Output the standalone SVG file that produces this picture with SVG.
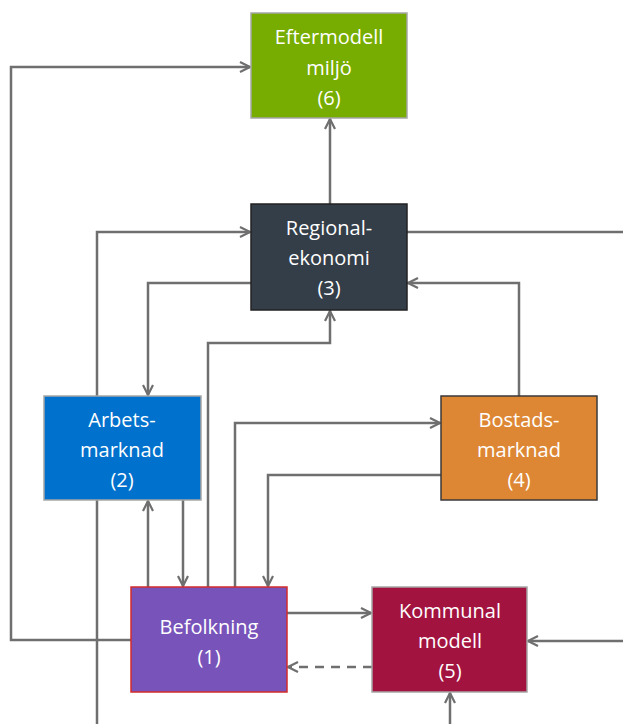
<svg xmlns="http://www.w3.org/2000/svg" width="623" height="724" viewBox="0 0 623 724">
<style>
.c{fill:none;stroke:#6f6f6f;stroke-width:2.5}
.d{stroke-dasharray:9,7}
text{font-family:"Open Sans","Noto Sans",sans-serif;font-size:20px;fill:#fff;text-anchor:middle}
</style>
<defs>
<marker id="a" viewBox="0 0 12 12" refX="11" refY="6" markerWidth="12" markerHeight="12" markerUnits="userSpaceOnUse" orient="auto">
<path d="M1,1 L11,6 L1,11" fill="none" stroke="#6f6f6f" stroke-width="2.2"/>
</marker>
</defs>
<rect width="623" height="724" fill="#fff"/>
<g id="connectors">
<path class="c" d="M131,640 H11 V67 H250" marker-end="url(#a)"/>
<path class="c" d="M97,396 V232 H250" marker-end="url(#a)"/>
<path class="c" d="M97,500 V724"/>
<path class="c" d="M251,283 H148 V395" marker-end="url(#a)"/>
<path class="c" d="M407,232 H623"/>
<path class="c" d="M519,396 V283 H408" marker-end="url(#a)"/>
<path class="c" d="M208,587 V343 H330 V311" marker-end="url(#a)"/>
<path class="c" d="M330,204 V119" marker-end="url(#a)"/>
<path class="c" d="M235,587 V423 H440" marker-end="url(#a)"/>
<path class="c" d="M441,475 H268 V586" marker-end="url(#a)"/>
<path class="c" d="M148,587 V501" marker-end="url(#a)"/>
<path class="c" d="M183,500 V586" marker-end="url(#a)"/>
<path class="c" d="M287,613 H371" marker-end="url(#a)"/>
<path class="c d" d="M372,667 H288" marker-end="url(#a)"/>
<path class="c" d="M623,641 H528" marker-end="url(#a)"/>
<path class="c" d="M450,724 V693" marker-end="url(#a)"/>
</g>
<g id="n6">
<rect x="251" y="13" width="156" height="105" fill="#77ad00" stroke="#a6a6a6" stroke-width="1.5"/>
<text x="329" y="44">Eftermodell</text>
<text x="329" y="75">miljö</text>
<text x="329" y="105">(6)</text>
</g>
<g id="n3">
<rect x="251" y="204" width="156" height="106" fill="#343e48" stroke="#222" stroke-width="1.5"/>
<text x="329" y="235">Regional-</text>
<text x="329" y="265">ekonomi</text>
<text x="329" y="295">(3)</text>
</g>
<g id="n2">
<rect x="44" y="396" width="157" height="104" fill="#0071cc" stroke="#a6a6a6" stroke-width="1.5"/>
<text x="122" y="427">Arbets-</text>
<text x="122" y="457">marknad</text>
<text x="122" y="487">(2)</text>
</g>
<g id="n4">
<rect x="441" y="396" width="156" height="104" fill="#dd8734" stroke="#3a3a3a" stroke-width="1.5"/>
<text x="519" y="427">Bostads-</text>
<text x="519" y="457">marknad</text>
<text x="519" y="487">(4)</text>
</g>
<g id="n1">
<rect x="131" y="587" width="156" height="105" fill="#7853ba" stroke="#d22b2b" stroke-width="1.5"/>
<text x="209" y="634">Befolkning</text>
<text x="209" y="664">(1)</text>
</g>
<g id="n5">
<rect x="372" y="587" width="155" height="105" fill="#a3133f" stroke="#a6a6a6" stroke-width="1.5"/>
<text x="450" y="618">Kommunal</text>
<text x="450" y="648">modell</text>
<text x="450" y="678">(5)</text>
</g>
</svg>
